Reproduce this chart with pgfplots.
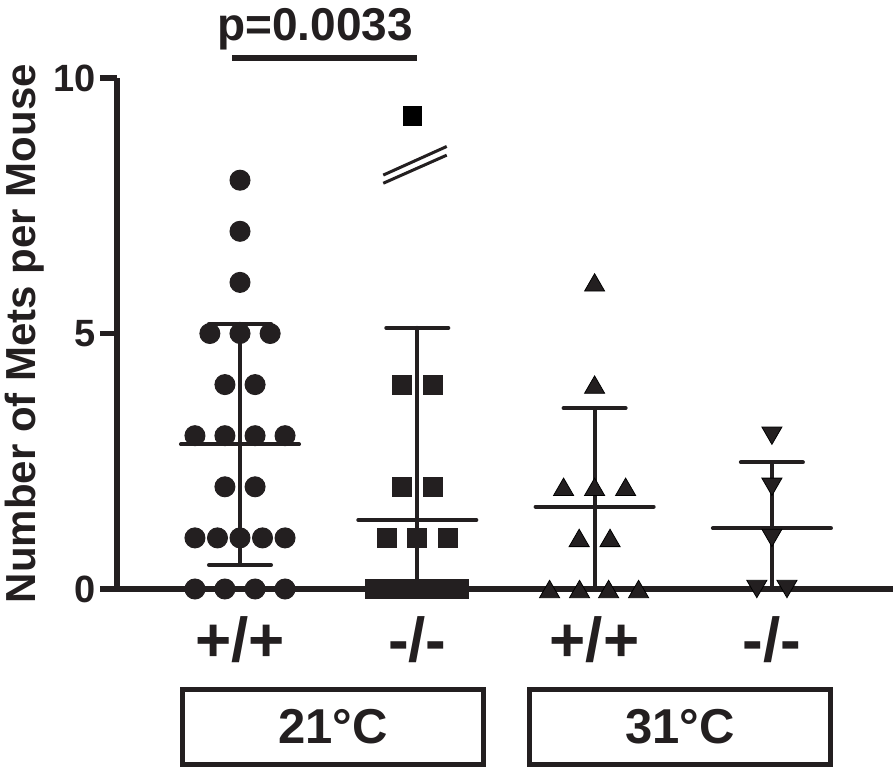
\documentclass[border=0pt]{standalone}
\usepackage{fontspec}
\setmainfont{Liberation Sans}
\usepackage{pgfplots}
\pgfplotsset{compat=1.18}
\definecolor{ink}{RGB}{35,31,32}

\begin{document}
\begin{tikzpicture}
\begin{axis}[
  scale only axis, width=388pt, height=255.5pt,
  xmin=0.30626, xmax=4.68302, ymin=0, ymax=10,
  axis lines*=left, clip=false,
  axis line style={line width=2.75pt, ink},
  xtick={1,2,3,4}, xticklabels={+/+,-/-,+/+,-/-},
  x tick style={draw=none},
  xticklabel style={font=\fontsize{31}{31}\selectfont\bfseries, text=ink, anchor=center, yshift=-17pt},
  ytick={0,5,10}, tick align=outside, major tick length=8.5pt,
  y tick style={line width=2.75pt, ink},
  yticklabel style={font=\fontsize{19}{19}\selectfont\bfseries, text=ink, inner sep=1pt, xshift=-1pt},
  /pgf/number format/assume math mode=true,
  ylabel={Number of Mets per Mouse},
  every axis y label/.style={at={(axis description cs:-0.1186,0.5)}, rotate=90, anchor=center,
    font=\fontsize{21}{21}\selectfont\bfseries, text=ink},
  eb/.style={ink, line width=2pt, line cap=round, forget plot},
]

% 21C +/+
\addplot[only marks, mark=*, mark size=5pt, mark options={draw=ink, line width=0.5pt, fill=ink}] coordinates {
  (1,8)(1,7)(1,6)
  (0.83,5)(1,5)(1.17,5)
  (0.915,4)(1.085,4)
  (0.746,3)(0.915,3)(1.085,3)(1.254,3)
  (0.915,2)(1.085,2)
  (0.746,1)(0.873,1)(1,1)(1.127,1)(1.254,1)
  (0.746,0)(0.915,0)(1.085,0)(1.254,0)
};
% 21C -/-
\addplot[only marks, mark=square*, mark size=4.75pt, mark options={draw=ink, line width=0.5pt, fill=ink}] coordinates {
  (1.915,4)(2.09,4)
  (1.915,2)(2.09,2)
  (1.83,1)(2,1)(2.175,1)
  (1.763,0)(1.795,0)(1.826,0)(1.858,0)(1.889,0)(1.921,0)(1.953,0)(1.984,0)
  (2.016,0)(2.047,0)(2.079,0)(2.111,0)(2.142,0)(2.174,0)(2.205,0)(2.237,0)
};
\addplot[only marks, mark=square*, mark size=4.6pt, mark options={draw=none, fill=black}] coordinates {(1.972,9.26)};
% 31C +/+
\addplot[only marks, mark=triangle*, mark size=5.8pt, mark options={draw=none, fill=ink, yshift=-1.45pt}] coordinates {
  (3,6)(3,4)
  (2.825,2)(3,2)(3.175,2)
  (2.913,1)(3.087,1)
  (2.746,0)(2.915,0)(3.079,0)(3.248,0)
};
% 31C -/-
\addplot[only marks, mark=triangle*, mark size=5.8pt, mark options={draw=none, fill=ink, rotate=180, yshift=-1.45pt}] coordinates {
  (4,3)(4,2)(4,1)(3.915,0)(4.085,0)
};

% mean and SD
\addplot[eb] coordinates {(0.667,2.83)(1.333,2.83)};
\addplot[eb] coordinates {(1,0.47)(1,5.19)};
\addplot[eb] coordinates {(0.825,5.19)(1.175,5.19)};
\addplot[eb] coordinates {(0.825,0.47)(1.175,0.47)};

\addplot[eb] coordinates {(1.667,1.35)(2.333,1.35)};
\addplot[eb] coordinates {(2,0)(2,5.11)};
\addplot[eb] coordinates {(1.825,5.11)(2.175,5.11)};

\addplot[eb] coordinates {(2.667,1.61)(3.333,1.61)};
\addplot[eb] coordinates {(3,0)(3,3.54)};
\addplot[eb] coordinates {(2.825,3.54)(3.175,3.54)};

\addplot[eb] coordinates {(3.667,1.19)(4.333,1.19)};
\addplot[eb] coordinates {(4,0)(4,2.48)};
\addplot[eb] coordinates {(3.825,2.48)(4.175,2.48)};

% axis break marks
\addplot[ink, line width=1.5pt, forget plot] coordinates {(1.808,7.94)(2.166,8.49)};
\addplot[ink, line width=1.5pt, forget plot] coordinates {(1.808,8.10)(2.166,8.66)};

% significance bar
\addplot[ink, line width=3pt, forget plot] coordinates {(0.955,10.39)(1.998,10.39)};
\node[anchor=base, font=\fontsize{23}{23}\selectfont\bfseries, text=ink, inner sep=0pt] at (axis cs:1.423,10.74) {p=0.0033};

% temperature boxes
\draw[ink, line width=2.5pt] (axis cs:0.676,-1.962) rectangle (axis cs:2.374,-3.439);
\draw[ink, line width=2.5pt] (axis cs:2.633,-1.962) rectangle (axis cs:4.331,-3.439);
\node[font=\fontsize{24.5}{24.5}\selectfont\bfseries, text=ink] at (axis cs:1.525,-2.70) {21°C};
\node[font=\fontsize{24.5}{24.5}\selectfont\bfseries, text=ink] at (axis cs:3.482,-2.70) {31°C};

\coordinate (bl) at (axis cs:-0.35364,-3.6791);
\coordinate (tr) at (axis cs:4.68866,11.5264);
\end{axis}
\pgfresetboundingbox
\useasboundingbox (bl) rectangle (tr);
\end{tikzpicture}
\end{document}
